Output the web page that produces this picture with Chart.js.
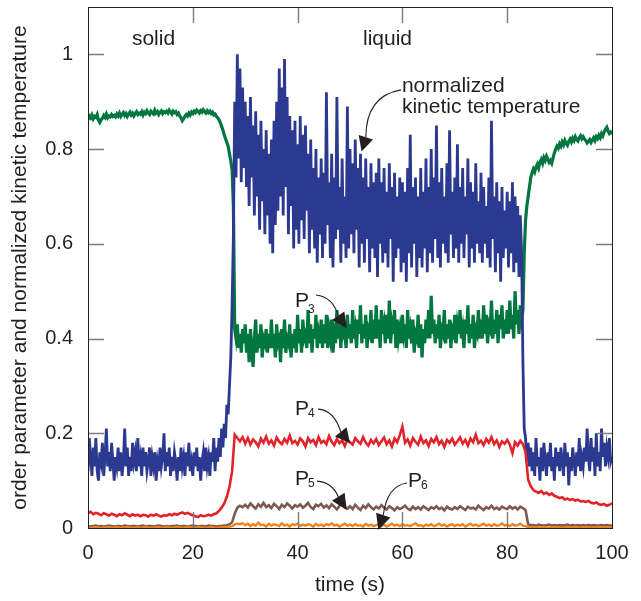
<!DOCTYPE html>
<html>
<head>
<meta charset="utf-8">
<script src="https://cdn.jsdelivr.net/npm/chart.js@4/dist/chart.umd.min.js"></script>
<style>
  html, body { margin: 0; padding: 0; background: #fff; }
  #box { width: 641px; height: 601px; }
</style>
</head>
<body>
<div id="box"><canvas id="meltPlot" width="641" height="601"></canvas></div>
<script>
// sampling steps (seconds) of the recorded series
const fineStep = 0.25;
const coarseStep = 0.5;

// normalized kinetic temperature, every 0.25 s
const temperature = [
  0.12,0.19,0.15,0.11,0.17,0.13,0.19,0.12,0.10,0.16,0.14,0.18,0.11,0.15,0.21,0.13,0.16,0.12,0.18,0.14,
  0.10,0.15,0.13,0.17,0.12,0.16,0.11,0.14,0.21,0.13,0.17,0.11,0.15,0.12,0.18,0.14,0.16,0.12,0.19,0.13,
  0.15,0.11,0.17,0.13,0.16,0.12,0.14,0.17,0.11,0.15,0.13,0.16,0.10,0.14,0.12,0.17,0.13,0.15,0.20,0.12,
  0.16,0.13,0.17,0.11,0.15,0.12,0.16,0.14,0.10,0.15,0.12,0.17,0.13,0.15,0.11,0.16,0.13,0.18,0.12,0.14,
  0.11,0.16,0.13,0.17,0.12,0.15,0.10,0.14,0.16,0.12,0.17,0.13,0.15,0.11,0.16,0.14,0.19,0.12,0.17,0.14,
  0.19,0.15,0.21,0.17,0.22,0.19,0.26,0.24,0.30,0.36,0.47,0.62,0.90,0.74,1.00,0.78,0.97,0.73,0.93,0.76,
  0.90,0.72,0.87,0.68,0.91,0.74,0.85,0.66,0.88,0.70,0.83,0.63,0.86,0.69,0.80,0.62,0.84,0.66,0.79,0.60,
  0.82,0.58,0.86,0.64,0.90,0.67,0.97,0.70,0.93,0.66,0.99,0.72,0.91,0.62,0.87,0.68,0.84,0.59,0.86,0.63,
  0.81,0.60,0.87,0.65,0.83,0.61,0.85,0.67,0.79,0.58,0.82,0.63,0.76,0.59,0.80,0.56,0.74,0.62,0.78,0.57,
  0.75,0.60,0.92,0.64,0.73,0.57,0.79,0.55,0.74,0.61,0.91,0.63,0.72,0.56,0.78,0.60,0.70,0.57,0.89,0.59,
  0.80,0.62,0.77,0.58,0.82,0.63,0.76,0.55,0.79,0.60,0.74,0.56,0.78,0.61,0.72,0.54,0.77,0.59,0.73,0.57,
  0.75,0.53,0.78,0.60,0.73,0.56,0.76,0.58,0.71,0.55,0.77,0.61,0.72,0.52,0.75,0.57,0.70,0.59,0.74,0.54,
  0.73,0.56,0.71,0.52,0.76,0.58,0.83,0.55,0.72,0.60,0.74,0.53,0.70,0.57,0.76,0.55,0.71,0.59,0.78,0.54,
  0.72,0.58,0.80,0.56,0.74,0.61,0.85,0.57,0.73,0.55,0.76,0.60,0.70,0.58,0.77,0.56,0.84,0.62,0.71,0.57,
  0.74,0.59,0.81,0.56,0.72,0.60,0.76,0.57,0.70,0.62,0.78,0.55,0.73,0.59,0.71,0.56,0.77,0.60,0.69,0.58,
  0.75,0.56,0.72,0.60,0.68,0.57,0.74,0.55,0.86,0.61,0.70,0.54,0.73,0.58,0.69,0.52,0.72,0.57,0.67,0.59,
  0.71,0.55,0.69,0.58,0.73,0.54,0.70,0.56,0.68,0.53,0.66,0.58,0.35,0.21,0.19,0.14,0.18,0.13,0.17,0.12,
  0.16,0.11,0.19,0.13,0.15,0.10,0.17,0.12,0.18,0.14,0.11,0.16,0.13,0.18,0.12,0.15,0.10,0.17,0.13,0.16,
  0.12,0.17,0.14,0.11,0.18,0.13,0.16,0.09,0.15,0.12,0.17,0.14,0.11,0.16,0.13,0.19,0.12,0.15,0.13,0.17,
  0.14,0.21,0.15,0.12,0.19,0.14,0.17,0.11,0.20,0.13,0.16,0.12,0.21,0.15,0.18,0.13,0.17,0.15,0.19,0.14,
  0.15
];

// order parameter P3, every 0.25 s
const p3 = [
  0.862,0.870,0.866,0.872,0.864,0.869,0.867,0.873,0.861,0.856,0.862,0.865,0.871,0.867,0.874,0.866,0.870,0.868,0.873,0.869,
  0.871,0.868,0.874,0.870,0.876,0.869,0.873,0.877,0.871,0.875,0.869,0.874,0.878,0.872,0.876,0.870,0.875,0.879,0.873,0.876,
  0.874,0.879,0.872,0.878,0.875,0.881,0.876,0.873,0.880,0.877,0.874,0.882,0.876,0.879,0.873,0.878,0.881,0.875,0.879,0.877,
  0.880,0.876,0.882,0.878,0.874,0.880,0.877,0.879,0.873,0.876,0.870,0.866,0.860,0.864,0.869,0.873,0.870,0.876,0.872,0.878,
  0.875,0.880,0.877,0.882,0.879,0.876,0.881,0.878,0.883,0.879,0.876,0.881,0.877,0.880,0.875,0.878,0.872,0.874,0.869,0.866,
  0.862,0.856,0.848,0.840,0.830,0.822,0.814,0.806,0.790,0.775,0.755,0.680,0.420,0.400,0.430,0.380,0.410,0.370,0.420,0.390,
  0.43,0.37,0.41,0.35,0.42,0.38,0.34,0.40,0.44,0.37,0.41,0.38,0.43,0.36,0.40,0.39,0.42,0.37,0.41,0.38,
  0.44,0.38,0.41,0.36,0.43,0.39,0.40,0.35,0.42,0.38,0.44,0.37,0.40,0.39,0.43,0.36,0.41,0.38,0.42,0.37,
  0.45,0.39,0.42,0.37,0.44,0.40,0.41,0.38,0.46,0.39,0.43,0.37,0.42,0.40,0.45,0.38,0.41,0.39,0.44,0.38,
  0.43,0.39,0.45,0.38,0.42,0.40,0.44,0.37,0.41,0.39,0.46,0.40,0.43,0.38,0.44,0.41,0.42,0.38,0.45,0.40,
  0.43,0.39,0.46,0.40,0.42,0.38,0.44,0.41,0.47,0.39,0.43,0.40,0.45,0.38,0.42,0.41,0.46,0.39,0.44,0.40,
  0.47,0.40,0.44,0.38,0.46,0.41,0.43,0.39,0.45,0.40,0.48,0.39,0.43,0.41,0.46,0.38,0.44,0.40,0.42,0.39,
  0.45,0.41,0.43,0.38,0.46,0.40,0.42,0.39,0.44,0.37,0.41,0.40,0.45,0.38,0.43,0.36,0.42,0.39,0.44,0.40,
  0.46,0.40,0.49,0.41,0.44,0.39,0.43,0.40,0.45,0.38,0.42,0.41,0.46,0.39,0.43,0.40,0.44,0.38,0.42,0.41,
  0.45,0.39,0.43,0.41,0.46,0.40,0.42,0.38,0.44,0.41,0.47,0.39,0.43,0.40,0.45,0.38,0.42,0.41,0.46,0.40,
  0.44,0.40,0.47,0.41,0.45,0.39,0.43,0.42,0.48,0.40,0.44,0.41,0.46,0.39,0.45,0.42,0.47,0.40,0.44,0.41,
  0.46,0.41,0.48,0.42,0.45,0.40,0.50,0.43,0.46,0.41,0.47,0.44,0.46,0.58,0.65,0.68,0.70,0.72,0.740,0.750,
  0.758,0.752,0.762,0.768,0.760,0.772,0.778,0.770,0.782,0.776,0.785,0.779,0.772,0.776,0.770,0.781,0.792,0.800,0.806,0.802,
  0.811,0.806,0.815,0.809,0.818,0.812,0.808,0.816,0.821,0.815,0.823,0.818,0.826,0.820,0.817,0.824,0.828,0.822,0.826,0.821,
  0.818,0.813,0.816,0.820,0.814,0.819,0.824,0.818,0.826,0.822,0.829,0.824,0.833,0.828,0.836,0.842,0.846,0.838,0.833,0.836,
  0.832
];

// order parameter P4, every 0.5 s
const p4 = [
  0.031,0.034,0.029,0.032,0.030,0.027,0.031,0.029,0.026,0.030,
  0.028,0.025,0.029,0.027,0.031,0.028,0.025,0.029,0.026,0.028,
  0.025,0.028,0.027,0.024,0.028,0.026,0.029,0.026,0.024,0.027,
  0.026,0.029,0.027,0.030,0.028,0.031,0.033,0.030,0.032,0.029,
  0.027,0.025,0.023,0.027,0.025,0.026,0.028,0.026,0.029,0.031,
  0.036,0.043,0.052,0.066,0.087,0.120,0.197,0.190,0.183,0.192,
  0.178,0.190,0.176,0.187,0.181,0.172,0.189,0.180,0.193,0.178,
  0.185,0.174,0.191,0.182,0.177,0.188,0.180,0.195,0.179,0.184,
  0.176,0.189,0.183,0.172,0.190,0.181,0.186,0.175,0.192,0.180,
  0.184,0.177,0.194,0.182,0.175,0.188,0.179,0.185,0.173,0.187,
  0.181,0.176,0.190,0.183,0.178,0.192,0.180,0.174,0.186,0.179,
  0.188,0.175,0.183,0.191,0.177,0.185,0.172,0.189,0.181,0.196,
  0.214,0.180,0.187,0.174,0.190,0.182,0.176,0.193,0.179,0.185,
  0.173,0.188,0.181,0.192,0.177,0.184,0.171,0.186,0.180,0.189,
  0.176,0.183,0.191,0.178,0.186,0.174,0.189,0.181,0.197,0.179,
  0.184,0.175,0.188,0.180,0.192,0.177,0.185,0.171,0.183,0.178,
  0.186,0.176,0.158,0.181,0.174,0.184,0.177,0.160,0.102,0.088,
  0.080,0.077,0.074,0.078,0.072,0.075,0.070,0.073,0.068,0.066,
  0.063,0.065,0.060,0.062,0.059,0.061,0.058,0.060,0.056,0.057,
  0.055,0.057,0.053,0.052,0.054,0.050,0.049,0.051,0.047,0.049,
  0.052
];

// order parameter P5, every 0.5 s
const p5 = [
  0.004,0.003,0.004,0.005,0.003,0.004,0.003,0.004,0.005,0.004,
  0.003,0.004,0.004,0.003,0.005,0.004,0.003,0.004,0.004,0.003,
  0.004,0.005,0.003,0.004,0.004,0.003,0.004,0.005,0.004,0.003,
  0.004,0.003,0.004,0.004,0.005,0.003,0.004,0.004,0.003,0.004,
  0.005,0.004,0.003,0.004,0.004,0.003,0.005,0.004,0.004,0.003,
  0.004,0.004,0.005,0.006,0.008,0.012,0.030,0.043,0.047,0.044,
  0.049,0.043,0.052,0.046,0.041,0.050,0.045,0.053,0.044,0.048,
  0.042,0.051,0.046,0.040,0.049,0.044,0.052,0.047,0.041,0.048,
  0.045,0.050,0.043,0.047,0.053,0.044,0.040,0.049,0.046,0.051,
  0.043,0.048,0.042,0.050,0.045,0.039,0.047,0.052,0.044,0.041,
  0.046,0.040,0.049,0.043,0.038,0.047,0.042,0.050,0.044,0.039,
  0.045,0.041,0.048,0.043,0.039,0.046,0.042,0.037,0.044,0.040,
  0.043,0.047,0.041,0.038,0.045,0.040,0.044,0.039,0.046,0.042,
  0.038,0.044,0.041,0.046,0.040,0.043,0.037,0.045,0.041,0.039,
  0.044,0.040,0.046,0.042,0.038,0.045,0.041,0.043,0.039,0.047,
  0.042,0.038,0.044,0.041,0.047,0.040,0.043,0.039,0.045,0.042,
  0.040,0.046,0.041,0.044,0.039,0.045,0.042,0.038,0.008,0.006,
  0.006,0.005,0.007,0.006,0.005,0.006,0.007,0.005,0.006,0.005,
  0.006,0.005,0.006,0.007,0.005,0.006,0.005,0.006,0.005,0.006,
  0.005,0.006,0.005,0.006,0.005,0.005,0.006,0.005,0.006,0.005,
  0.005
];

// order parameter P6, every 0.5 s
const p6 = [
  0.001,0.000,0.001,0.002,0.001,0.000,0.001,0.001,0.002,0.000,
  0.001,0.002,0.000,0.001,0.001,0.002,0.001,0.000,0.001,0.002,
  0.000,0.001,0.002,0.001,0.000,0.001,0.001,0.002,0.000,0.001,
  0.002,0.001,0.000,0.001,0.002,0.001,0.000,0.001,0.002,0.001,
  0.001,0.000,0.002,0.001,0.001,0.000,0.001,0.002,0.001,0.000,
  0.001,0.001,0.002,0.002,0.003,0.004,0.007,0.009,0.008,0.010,
  0.006,0.009,0.004,0.008,0.005,0.011,0.006,0.007,0.003,0.009,
  0.005,0.008,0.006,0.004,0.010,0.005,0.007,0.003,0.008,0.006,
  0.009,0.004,0.007,0.005,0.008,0.006,0.003,0.009,0.005,0.007,
  0.004,0.008,0.006,0.010,0.005,0.007,0.003,0.006,0.009,0.005,
  0.007,0.004,0.008,0.005,0.006,0.003,0.009,0.005,0.007,0.004,
  0.006,0.008,0.004,0.007,0.003,0.006,0.009,0.005,0.007,0.004,
  0.008,0.005,0.006,0.004,0.007,0.010,0.005,0.006,0.003,0.007,
  0.005,0.008,0.004,0.006,0.009,0.005,0.007,0.003,0.006,0.008,
  0.004,0.007,0.005,0.008,0.003,0.006,0.009,0.005,0.007,0.004,
  0.006,0.009,0.005,0.007,0.004,0.008,0.005,0.006,0.010,0.005,
  0.007,0.004,0.008,0.005,0.006,0.009,0.005,0.004,0.002,0.001,
  0.001,0.002,0.001,0.001,0.002,0.001,0.000,0.001,0.002,0.001,
  0.001,0.000,0.001,0.002,0.001,0.001,0.002,0.001,0.000,0.001,
  0.002,0.001,0.001,0.000,0.001,0.002,0.001,0.001,0.002,0.001,
  0.001
];

const xTickValues = [0, 20, 40, 60, 80, 100];
const xTickLabels = ['0', '20', '40', '60', '80', '100'];
const yTickValues = [0, 0.2, 0.4, 0.6, 0.8, 1];
const yTickLabels = ['0', '0.2', '0.4', '0.6', '0.8', '1'];

// phase names and curve labels, in data units (time, value)
const phaseLabels = [
  { text: 'solid', t: 12.5, v: 1.02 },
  { text: 'liquid', t: 57.16, v: 1.02 }
];
const tempLabel = { lines: ['normalized', 'kinetic temperature'], t: 59.9, v: [0.921, 0.876] };
const orderLabels = [
  { sub: '3', t: 39.5, v: 0.467, drop: 6 },
  { sub: '4', t: 39.5, v: 0.239, drop: 2 },
  { sub: '5', t: 39.5, v: 0.090, drop: 2 },
  { sub: '6', t: 61.07, v: 0.087, drop: 2 }
];
const pointers = [
  { from: [59.73, 0.925], ctrl: [53.05, 0.912], base: [53.02, 0.825], tip: [52.21, 0.795] },
  { from: [43.51, 0.492], ctrl: [46.76, 0.488], base: [47.75, 0.448], tip: [49.37, 0.422] },
  { from: [43.89, 0.251], ctrl: [46.95, 0.249], base: [48.24, 0.203], tip: [50.00, 0.179] },
  { from: [43.70, 0.099], ctrl: [46.56, 0.097], base: [47.77, 0.066], tip: [49.37, 0.038] },
  { from: [60.88, 0.095], ctrl: [57.06, 0.089], base: [56.35, 0.027], tip: [55.40, -0.004] }
];

const ink = '#231f20';
const family = "'Liberation Sans', Arial, Helvetica, sans-serif";

function toPoints(values, step) {
  return values.map((v, i) => ({ x: i * step, y: v }));
}

// frame, inward ticks on all four sides, and the annotations
const framePlugin = {
  id: 'frameAndNotes',
  afterDatasetsDraw(chart) {
    const { ctx, chartArea: a, scales: { x, y } } = chart;
    const tickLen = 16;
    ctx.save();

    ctx.strokeStyle = '#7c7c7c';
    ctx.lineWidth = 1.4;
    ctx.beginPath();
    x.ticks.forEach(t => {
      if (t.value <= x.min || t.value >= x.max) return;
      const px = Math.round(x.getPixelForValue(t.value)) + 0.5;
      ctx.moveTo(px, a.bottom); ctx.lineTo(px, a.bottom - tickLen);
      ctx.moveTo(px, a.top); ctx.lineTo(px, a.top + tickLen);
    });
    y.ticks.forEach(t => {
      if (t.value <= y.min || t.value >= y.max) return;
      const py = Math.round(y.getPixelForValue(t.value)) + 0.5;
      ctx.moveTo(a.left, py); ctx.lineTo(a.left + tickLen, py);
      ctx.moveTo(a.right, py); ctx.lineTo(a.right - tickLen, py);
    });
    ctx.stroke();

    ctx.strokeStyle = ink;
    ctx.lineWidth = 1;
    ctx.strokeRect(a.left + 0.5, a.top + 0.5, a.right - a.left, a.bottom - a.top);

    ctx.fillStyle = ink;
    ctx.textBaseline = 'alphabetic';
    ctx.font = '21px ' + family;
    ctx.textAlign = 'center';
    phaseLabels.forEach(l => ctx.fillText(l.text, x.getPixelForValue(l.t), y.getPixelForValue(l.v)));

    ctx.textAlign = 'left';
    tempLabel.lines.forEach((line, i) =>
      ctx.fillText(line, x.getPixelForValue(tempLabel.t), y.getPixelForValue(tempLabel.v[i])));

    orderLabels.forEach(l => {
      const px = x.getPixelForValue(l.t);
      const py = y.getPixelForValue(l.v);
      ctx.font = '21px ' + family;
      ctx.fillText('P', px, py);
      const w = ctx.measureText('P').width;
      ctx.font = '12px ' + family;
      ctx.fillText(l.sub, px + w - 1, py + l.drop);
    });

    // curved pointers with filled heads
    ctx.lineWidth = 1.1;
    pointers.forEach(p => {
      const f = [x.getPixelForValue(p.from[0]), y.getPixelForValue(p.from[1])];
      const c = [x.getPixelForValue(p.ctrl[0]), y.getPixelForValue(p.ctrl[1])];
      const b = [x.getPixelForValue(p.base[0]), y.getPixelForValue(p.base[1])];
      const t = [x.getPixelForValue(p.tip[0]), y.getPixelForValue(p.tip[1])];
      ctx.beginPath();
      ctx.moveTo(f[0], f[1]);
      ctx.quadraticCurveTo(c[0], c[1], b[0], b[1]);
      ctx.stroke();
      const dx = t[0] - b[0], dy = t[1] - b[1];
      const len = Math.hypot(dx, dy);
      const nx = -dy / len * 7.5, ny = dx / len * 7.5;
      ctx.beginPath();
      ctx.moveTo(t[0], t[1]);
      ctx.lineTo(b[0] + nx, b[1] + ny);
      ctx.lineTo(b[0] - nx, b[1] - ny);
      ctx.closePath();
      ctx.fill();
    });
    ctx.restore();
  }
};

const line = (label, values, step, color, width) => ({
  label,
  data: toPoints(values, step),
  borderColor: color,
  backgroundColor: color,
  borderWidth: width,
  pointRadius: 0,
  tension: 0,
  fill: false
});

const ctx = document.getElementById('meltPlot').getContext('2d');
new Chart(ctx, {
  type: 'line',
  data: {
    // first dataset is painted last (on top)
    datasets: [
      line('P6', p6, coarseStep, '#f0821e', 2.4),
      line('P5', p5, coarseStep, '#7d5a50', 2.6),
      line('P4', p4, coarseStep, '#e2242a', 2.6),
      line('normalized kinetic temperature', temperature, fineStep, '#2c3990', 2.8),
      line('P3', p3, fineStep, '#00773f', 3.2)
    ]
  },
  options: {
    responsive: false,
    animation: false,
    devicePixelRatio: 1,
    layout: { padding: { top: 7, right: 29, left: 0, bottom: 0 } },
    plugins: { legend: { display: false }, tooltip: { enabled: false } },
    scales: {
      x: {
        type: 'linear',
        min: 0,
        max: 100,
        afterBuildTicks: s => { s.ticks = xTickValues.map(v => ({ value: v })); },
        afterFit: s => { s.height = 73; s.paddingLeft = 0; s.paddingRight = 0; },
        grid: { display: false, drawTicks: false },
        border: { display: false },
        ticks: {
          padding: 13,
          color: ink,
          font: { family, size: 20 },
          maxRotation: 0,
          callback: (v, i) => xTickLabels[i]
        },
        title: {
          display: true,
          text: 'time (s)',
          color: ink,
          font: { family, size: 21 },
          padding: { top: 0, bottom: 3 }
        }
      },
      y: {
        type: 'linear',
        min: 0,
        max: 1.1,
        afterBuildTicks: s => { s.ticks = yTickValues.map(v => ({ value: v })); },
        afterFit: s => { s.width = 88; s.paddingTop = 0; s.paddingBottom = 0; },
        grid: { display: false, drawTicks: false },
        border: { display: false },
        ticks: {
          padding: 15,
          color: ink,
          font: { family, size: 20 },
          callback: (v, i) => yTickLabels[i]
        },
        title: {
          display: true,
          text: 'order parameter and normalized kinetic temperature',
          color: ink,
          font: { family, size: 21 },
          padding: { top: 8, bottom: 0 }
        }
      }
    }
  },
  plugins: [framePlugin]
});
</script>
</body>
</html>
